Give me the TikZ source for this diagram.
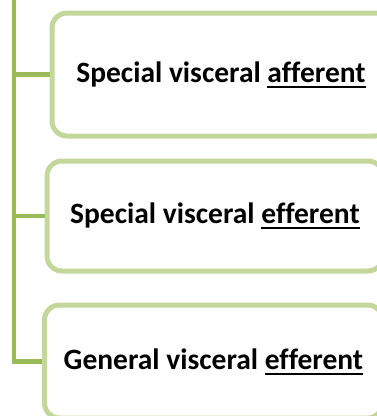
\documentclass[tikz,border=0pt]{standalone}
\usepackage{fontspec}
\setmainfont{Carlito}[Ligatures=NoCommon]
\definecolor{trunkgreen}{RGB}{155,187,89}
\definecolor{boxgreen}{RGB}{196,215,155}
\newcommand\myul[1]{\setbox0\hbox{#1}\rlap{\rule[-5.5pt]{\wd0}{1.9pt}}\box0}
\begin{document}
\begin{tikzpicture}[x=1pt,y=-1pt,
  stem/.style={draw=trunkgreen,line width=4.7pt},
  card/.style={draw=boxgreen,line width=5pt,rounded corners=15pt,fill=white,
    font=\fontsize{29.5}{34}\selectfont\bfseries,inner sep=0pt},
]
\useasboundingbox (0,0) rectangle (377,416);
\clip (0,0) rectangle (377,416);
\coordinate (top) at (14,-10);
\coordinate (j1) at (14,74.5);
\coordinate (j2) at (14,216);
\coordinate (j3) at (14,361.5);
\node[card,minimum width=338pt,minimum height=123pt] (b1) at (221,74.5) {Special visceral \myul{afferent}};
\node[card,minimum width=336pt,minimum height=110pt] (b2) at (215,216) {Special visceral \myul{efferent}};
\node[card,minimum width=338pt,minimum height=113pt] (b3) at (213.5,361.5) {General visceral \myul{efferent}};
\draw[stem] (top) -- (j3) -- (b3.west);
\draw[stem] (j1) -- (b1.west);
\draw[stem] (j2) -- (b2.west);
\end{tikzpicture}
\end{document}
